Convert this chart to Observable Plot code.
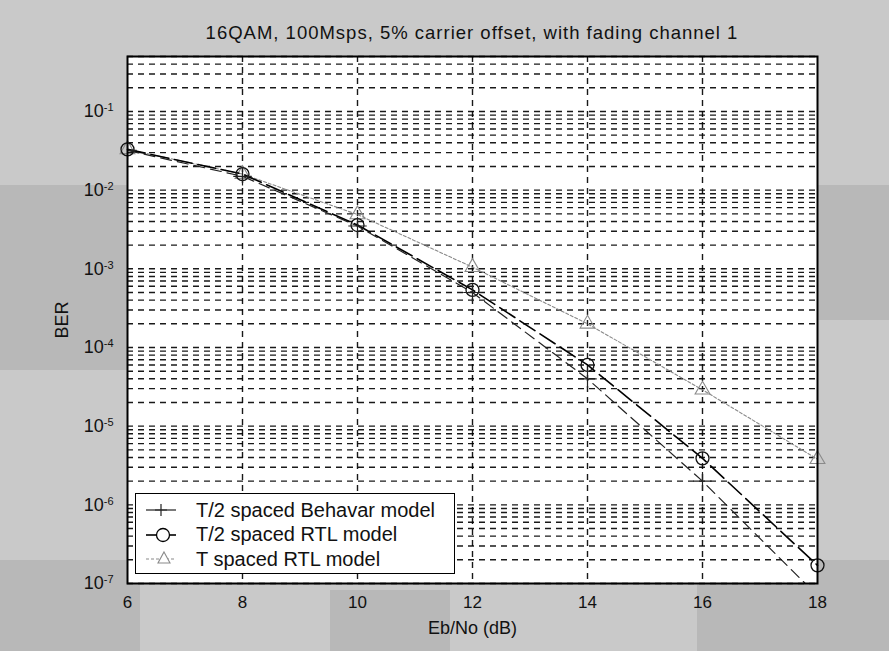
<!DOCTYPE html>
<html>
<head>
<meta charset="utf-8">
<script src="https://cdn.jsdelivr.net/npm/d3@7"></script>
<script src="https://cdn.jsdelivr.net/npm/@observablehq/plot@0.6"></script>
<style>
  html, body { margin: 0; padding: 0; }
  body { width: 889px; height: 651px; overflow: hidden; background: #c9c9c9; font-family: "Liberation Sans", Arial, sans-serif; }
  #wrap { position: relative; width: 889px; height: 651px; }
  .blk { position: absolute; background: #b8b8b8; }
  #title { position: absolute; left: 127px; width: 690px; top: 22px; text-align: center; font-size: 18.5px; letter-spacing: 1px; color: #111; }
  #chart { position: absolute; left: 0; top: 0; }
  #legend { position: absolute; left: 135px; top: 493px; width: 318px; height: 79px; background: #fff; border: 1.6px solid #000; font-size: 20px; color: #111; }
  .row { position: absolute; left: 0; height: 24px; display: flex; align-items: center; }
  .row svg { margin-left: 8px; margin-right: 18px; }
</style>
</head>
<body>
<div id="wrap">
  <div class="blk" style="left:0;top:185px;width:127px;height:185px"></div>
  <div class="blk" style="left:817px;top:185px;width:72px;height:135px"></div>
  <div class="blk" style="left:0;top:560px;width:140px;height:91px"></div>
  <div class="blk" style="left:330px;top:590px;width:120px;height:61px"></div>
  <div class="blk" style="left:697px;top:560px;width:192px;height:91px"></div>
  <div id="title">16QAM, 100Msps, 5% carrier offset, with fading channel 1</div>
  <div id="chart"></div>
  <div id="legend"></div>
</div>
<script>
// ---- data ----
const ebno = [6, 8, 10, 12, 14, 16, 18];
const berBehavar = [0.032, 0.015, 0.0035, 5.0e-4, 4.0e-5, 2.0e-6, 7e-8];
const berRtlHalf = [0.033, 0.016, 0.0036, 5.4e-4, 6.0e-5, 3.9e-6, 1.7e-7];
const berRtlT    = [0.033, 0.016, 0.0049, 1.05e-3, 2.0e-4, 2.9e-5, 3.8e-6];
const seriesNames = ["T/2 spaced Behavar model", "T/2 spaced RTL model", "T spaced RTL model"];
const xTicks = [6, 8, 10, 12, 14, 16, 18];
const yDecades = [1e-7, 1e-6, 1e-5, 1e-4, 1e-3, 1e-2, 1e-1];
const yDomain = [1e-7, 0.5];
const titleText = "16QAM, 100Msps, 5% carrier offset, with fading channel 1";
const xLabel = "Eb/No (dB)";
const yLabel = "BER";

// minor grid values (1..9 x each decade, within domain)
const yGrid = [];
for (const d of yDecades) for (let m = 1; m <= 9; m++) { const v = m * d; if (v <= yDomain[1] * 1.0001) yGrid.push(v); }

const toRows = (ys) => ebno.map((x, i) => ({x, y: ys[i]}));
const dB = toRows(berBehavar), dR = toRows(berRtlHalf), dT = toRows(berRtlT);

const gridDash = "6,5";
const chart = Plot.plot({
  width: 889,
  height: 651,
  marginLeft: 127,
  marginRight: 72,
  marginTop: 56,
  marginBottom: 68,
  style: {background: "transparent", fontFamily: "'Liberation Sans', Arial, sans-serif", fontSize: "17px", color: "#111"},
  x: {domain: [6, 18]},
  y: {type: "log", domain: yDomain},
  marks: [
    Plot.frame({fill: "white", stroke: "none"}),
    Plot.ruleY(yGrid, {stroke: "#000", strokeWidth: 1.4, strokeDasharray: gridDash, strokeOpacity: 0.9}),
    Plot.ruleX(xTicks.slice(1, -1), {stroke: "#000", strokeWidth: 1.4, strokeDasharray: gridDash, strokeOpacity: 0.9}),
    // T spaced RTL (gray dotted with triangles)
    Plot.line(dT, {x: "x", y: "y", stroke: "#8a8a8a", strokeWidth: 1.1, strokeDasharray: "3,2"}),
    Plot.dot(dT, {x: "x", y: "y", symbol: "triangle", r: 5.5, stroke: "#8a8a8a", strokeWidth: 1.1, fill: "none"}),
    // T/2 RTL (black dashed with circles)
    Plot.line(dR, {x: "x", y: "y", stroke: "#000", strokeWidth: 1.6, strokeDasharray: "18,6"}),
    Plot.dot(dR, {x: "x", y: "y", symbol: "circle", r: 6.5, stroke: "#111", strokeWidth: 1.3, fill: "none"}),
    // T/2 Behavar (dark dashed with plus)
    Plot.line(dB, {x: "x", y: "y", stroke: "#222", strokeWidth: 1.2, strokeDasharray: "11,6", clip: true}),
    Plot.dot(dB, {x: "x", y: "y", symbol: "plus", r: 6, stroke: "#222", strokeWidth: 1.2, clip: true}),
    Plot.frame({stroke: "#000", strokeWidth: 2}),
    Plot.axisX(xTicks, {tickSize: 0, tickPadding: 12, fontSize: 17, label: xLabel, labelAnchor: "center", labelArrow: "none", labelOffset: 50}),
    Plot.axisY(yDecades, {tickSize: 0, tickPadding: 14, fontSize: 18, tickFormat: d => "10^" + Math.round(Math.log10(d)), label: yLabel, labelAnchor: "center", labelArrow: "none", labelOffset: 72})
  ]
});
document.getElementById("chart").appendChild(chart);

// superscript exponent formatting for y tick labels
d3.select(chart).selectAll("text").each(function() {
  const t = this.textContent;
  const m = /^10\^(-?\d+)$/.exec(t);
  if (!m) return;
  const sel = d3.select(this);
  sel.text(null);
  sel.append("tspan").text("10");
  sel.append("tspan").attr("dy", "-0.55em").attr("font-size", "11px").text(m[1]);
});
// axis label font sizes
d3.select(chart).selectAll("text").each(function() {
  const t = this.textContent;
  if (t === xLabel || t === yLabel) d3.select(this).attr("font-size", 18);
});

// legend (HTML)
const legend = document.getElementById("legend");
const legStyles = [
  {stroke: "#222", w: 1.2, dash: null, sym: "plus"},
  {stroke: "#000", w: 1.6, dash: null, sym: "circle"},
  {stroke: "#8a8a8a", w: 1.1, dash: "3,2", sym: "triangle"}
];
seriesNames.forEach((name, i) => {
  const s = legStyles[i];
  const row = document.createElement("div");
  row.className = "row";
  row.style.top = (4 + i * 24.5) + "px";
  const svg = d3.create("svg").attr("width", 34).attr("height", 20);
  svg.append("line").attr("x1", 2).attr("x2", 32).attr("y1", 10).attr("y2", 10)
    .attr("stroke", s.stroke).attr("stroke-width", s.w).attr("stroke-dasharray", s.dash);
  if (s.sym === "plus") {
    svg.append("path").attr("d", "M17,4V16M11,10H23").attr("stroke", s.stroke).attr("stroke-width", s.w).attr("fill", "none");
  } else if (s.sym === "circle") {
    svg.append("circle").attr("cx", 19).attr("cy", 10).attr("r", 6.5).attr("stroke", s.stroke).attr("stroke-width", 1.3).attr("fill", "white");
  } else {
    svg.append("path").attr("d", "M20,3L26,14H14Z").attr("stroke", s.stroke).attr("stroke-width", 1.1).attr("fill", "white");
  }
  row.appendChild(svg.node());
  const span = document.createElement("span");
  span.textContent = name;
  row.appendChild(span);
  legend.appendChild(row);
});
</script>
</body>
</html>
